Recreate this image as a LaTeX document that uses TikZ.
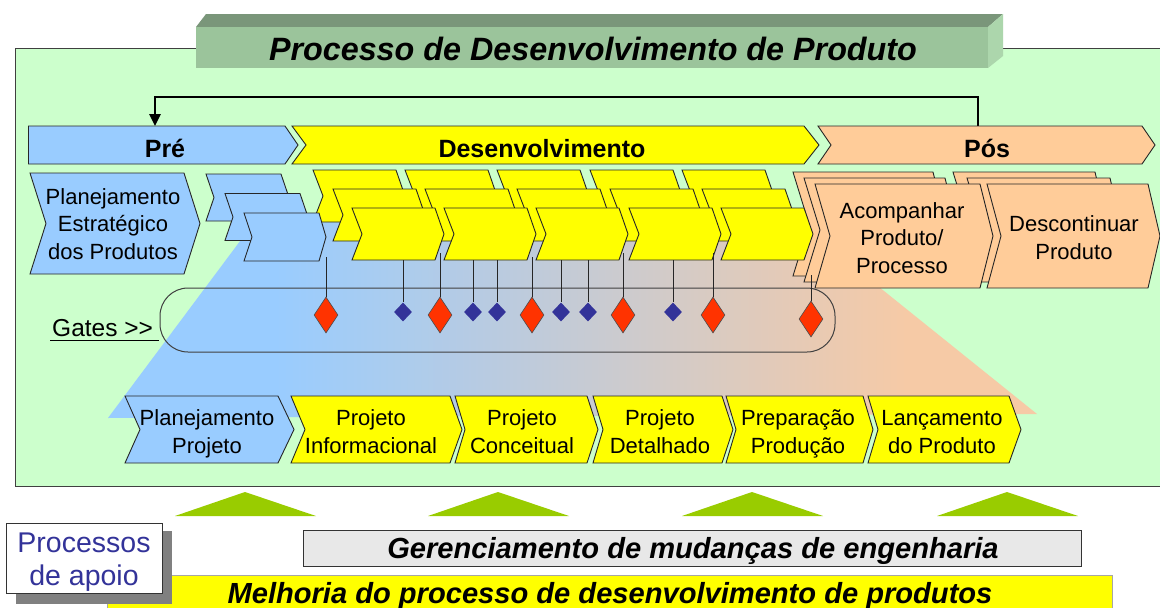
\documentclass[tikz,border=0pt]{standalone}
\usepackage{fontspec}
\setmainfont{Liberation Sans}
\usetikzlibrary{arrows.meta,shapes.geometric}
\definecolor{bgreen}{RGB}{204,255,204}
\definecolor{tfront}{RGB}{155,196,155}
\definecolor{ttop}{RGB}{122,150,122}
\definecolor{tside}{RGB}{172,214,172}
\definecolor{cblue}{RGB}{153,204,255}
\definecolor{cyel}{RGB}{255,255,0}
\definecolor{cpeach}{RGB}{255,204,153}
\definecolor{trpeach}{RGB}{246,202,166}
\definecolor{gred}{RGB}{255,51,0}
\definecolor{gblue}{RGB}{51,51,153}
\definecolor{mgreen}{RGB}{153,204,0}
\definecolor{lgray}{RGB}{232,232,232}
\pgfdeclarehorizontalshading{gatesh}{100bp}{color(0bp)=(cblue); color(34bp)=(cblue); color(68bp)=(trpeach); color(100bp)=(trpeach)}
\newcommand\mychev[7]{\path[#7] (#1,#2) -- ({#1+#3},#2) -- ({#1+#3+#6},{#2+#4/2}) -- ({#1+#3},{#2+#4}) -- (#1,{#2+#4}) -- ({#1+#5},{#2+#4/2}) -- cycle;}
\tikzset{
  chev/.style={draw=black!85, line width=0.9pt, line join=miter},
  blu/.style={chev, fill=cblue},
  yel/.style={chev, fill=cyel},
  pea/.style={chev, fill=cpeach},
  txt/.style={font=\fontsize{22}{27.5}\selectfont, align=center, inner sep=0pt},
  bar/.style={font=\bfseries\fontsize{25}{30}\selectfont, anchor=base, inner sep=0pt},
  gatered/.style={diamond, draw=black!70, fill=gred, minimum width=24pt, minimum height=36pt, inner sep=0pt, line width=0.6pt},
  gateblue/.style={diamond, fill=gblue, minimum width=18pt, minimum height=19pt, inner sep=0pt},
  gline/.style={draw=black!85, line width=0.9pt},
  bigit/.style={font=\bfseries\itshape\fontsize{29.1}{34}\selectfont, anchor=base, inner sep=0pt},
}
\begin{document}
\begin{tikzpicture}[x=1pt,y=-1pt]
\useasboundingbox (0,0) rectangle (1160,608);
\fill[white] (0,0) rectangle (1160,608);
\begin{scope}
\clip (0,0) rectangle (1160,608);
% main green panel
\path[fill=bgreen, draw=black!75, line width=1pt] (15,48) rectangle (1175,486);
% title 3D box
\fill[ttop] (196,27) -- (206,14) -- (1003,14) -- (988,27) -- cycle;
\fill[tside] (988,27) -- (1003,14) -- (1003,56) -- (988,68) -- cycle;
\fill[tfront] (196,27) rectangle (988,68);
\node[font=\bfseries\itshape\fontsize{32.3}{38}\selectfont, anchor=base, inner sep=0pt] (title) at (593,60) {Processo de Desenvolvimento de Produto};
% gradient trapezoid
\path[shading=gatesh] (261,213) -- (787,213) -- (1037,414) -- (108,418) -- cycle;
% gates band
\draw[draw=black!75, line width=1pt, rounded corners=28pt] (160,288) rectangle (835,352);
\node[font=\fontsize{24.5}{29}\selectfont, anchor=base west, inner sep=0pt] (gates) at (52,336) {Gates >{}>};
\draw[line width=1pt] (50,340) -- (159,340);
% feedback arrow
\coordinate (fbS) at (978,126);
\coordinate (fbE) at (155,126);
\draw[line width=2.6pt, -{Triangle[width=11pt,length=12pt]}] (fbS) -- ++(0,-29) -| (fbE);
% top bars
\mychev{28.5}{126}{256.5}{38}{0}{13}{blu}
\mychev{292}{126}{512}{38}{14}{15}{yel}
\mychev{818}{126}{324}{38}{13}{13}{pea}
\node[bar] (pre) at (165,157) {Pré};
\node[bar] (desenv) at (542,157) {Desenvolvimento};
\node[bar] (pos) at (987,157) {Pós};
% planejamento estrategico
\mychev{30}{173}{154}{101}{16}{16}{blu}
\node[txt] (pe) at (113,226) {\strut Planejamento\\\strut Estratégico\\\strut dos Produtos};
% peach stacks
\mychev{793}{172}{140}{104}{16}{13}{pea}
\mychev{953}{172}{142}{104}{16}{12}{pea}
\mychev{804}{178}{141}{104}{16}{13}{pea}
\mychev{967}{178}{143}{104}{16}{12}{pea}
\mychev{815}{184}{165}{104}{15}{13}{pea}
\mychev{987}{184}{161}{104}{14}{12}{pea}
\node[txt] (acomp) at (902,240) {\strut Acompanhar\\\strut Produto/\\\strut Processo};
\node[txt] (descont) at (1074,240) {\strut Descontinuar\\\strut Produto};
% yellow stacks (row by row)
\foreach \g in {313,405,497,590,682} {\mychev{\g}{170}{83}{52}{10}{9}{yel}}
\foreach \g in {313,405,497,590,682} {\mychev{\g+20}{189}{83}{52}{10}{9}{yel}}
\foreach \g in {313,405,497,590,682} {\mychev{\g+39}{208}{83}{52}{10}{9}{yel}}
% small blue stack
\mychev{206}{174}{75}{47}{8}{8}{blu}
\mychev{225}{193.5}{75}{47}{8}{8}{blu}
\mychev{244}{213}{75}{48}{8}{7}{blu}
% gates
\foreach \n/\x/\y/\t in {g1/326/315/257, g2/440/315/253, g3/532/315/257, g4/623/315/253, g5/713/315/253, g6/811/319/275} {
  \coordinate (\n t) at (\x,\t);
  \node[gatered] (\n) at (\x,\y) {};
  \draw[gline] (\n t) -- (\n.north);
}
\foreach \n/\x/\y/\t in {b1/403/312/260, b2/473/312/260, b3/497/312/260, b4/561/312/260, b5/588/312/260, b6/673/312/260} {
  \coordinate (\n t) at (\x,\t);
  \node[gateblue] (\n) at (\x,\y) {};
  \draw[gline] (\n t) -- (\n.north);
}
% bottom row
\mychev{125}{396}{153}{67}{15}{16}{blu}
\mychev{291}{396}{159}{67}{14}{12}{yel}
\mychev{455}{396}{132}{67}{10}{11}{yel}
\mychev{593}{396}{129}{67}{10}{11}{yel}
\mychev{726}{396}{137}{67}{10}{10}{yel}
\mychev{868}{396}{141}{67}{10}{12}{yel}
\node[txt] (r1) at (207,434) {\strut Planejamento\\\strut Projeto};
\node[txt] (r2) at (371,434) {\strut Projeto\\\strut Informacional};
\node[txt] (r3) at (522,434) {\strut Projeto\\\strut Conceitual};
\node[txt] (r4) at (660,434) {\strut Projeto\\\strut Detalhado};
\node[txt] (r5) at (798,434) {\strut Preparação\\\strut Produção};
\node[txt] (r6) at (942,434) {\strut Lançamento\\\strut do Produto};
% green mountains
\foreach \c in {245,498,752,1007} {\fill[mgreen] (\c-70,516) -- (\c,492) -- (\c+71,516) -- cycle;}
% support processes
\path[fill=cyel, draw=black!35, line width=0.8pt] (107,575) rectangle (1112,625);
\node[bigit] (mel) at (610,603) {Melhoria do processo de desenvolvimento de produtos};
\path[fill=lgray, draw=black!80, line width=1pt] (303,530) rectangle (1081,566);
\node[bigit] (ger) at (693,558) {Gerenciamento de mudanças de engenharia};
\fill[black!50] (16,531) rectangle (172,604);
\path[fill=white, draw=black!80, line width=1pt] (6,523) rectangle (162,593);
\node[font=\fontsize{28.5}{33}\selectfont, text=gblue, align=center, inner sep=0pt] (apoio) at (84,562) {\strut Processos\\\strut de apoio};
\end{scope}
\end{tikzpicture}
\end{document}
